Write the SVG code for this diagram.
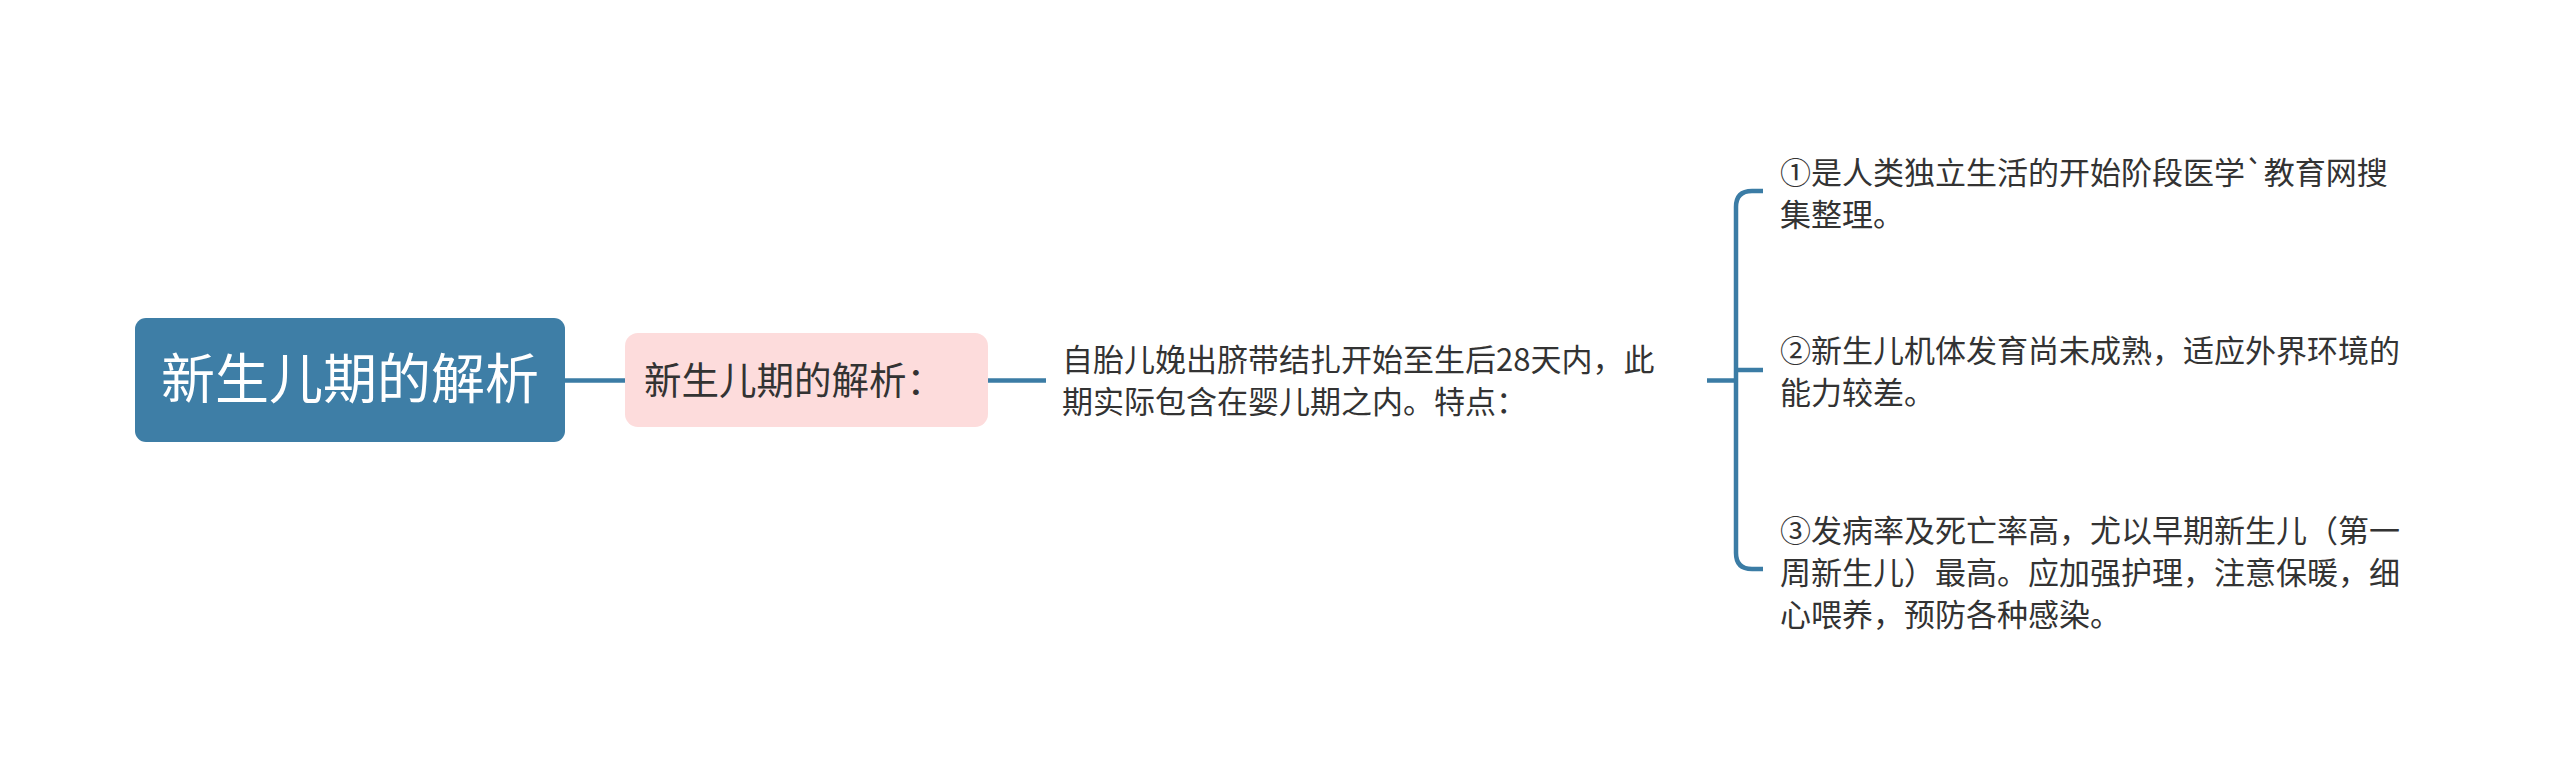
<svg xmlns="http://www.w3.org/2000/svg" width="2560" height="781" viewBox="0 0 2560 781">
<style>
text { font-family: "Noto Sans CJK SC", "Noto Sans", sans-serif; }
.root { fill: #ffffff; font-size: 54px; }
.sub { fill: #333333; font-size: 37.5px; }
.leaf { fill: #333333; font-size: 31px; }
.conn { fill: none; stroke: #3b7ca5; stroke-width: 4.5; stroke-linecap: butt; }
</style>
<rect width="2560" height="781" fill="#ffffff"/>
<g id="connectors">
<line class="conn" x1="565" y1="380.5" x2="625" y2="380.5"/>
<line class="conn" x1="988" y1="380.5" x2="1046" y2="380.5"/>
<line class="conn" x1="1707" y1="380.5" x2="1736" y2="380.5"/>
<path class="conn" d="M1763 191 H1752 Q1736 191 1736 207 V553 Q1736 569 1752 569 H1763"/>
<line class="conn" x1="1736" y1="370" x2="1763" y2="370"/>
</g>
<g id="root">
<rect x="135" y="318" width="430" height="124" rx="11" fill="#3e7ea6"/>
<text class="root" x="350" y="399" text-anchor="middle">新生儿期的解析</text>
</g>
<g id="sub">
<rect x="625" y="333" width="363" height="94" rx="13" fill="#fddcdc"/>
<text class="sub" x="644" y="394">新生儿期的解析：</text>
</g>
<g id="desc">
<text class="leaf" x="1062" y="371">自胎儿娩出脐带结扎开始至生后28天内，此</text>
<text class="leaf" x="1062" y="413">期实际包含在婴儿期之内。特点：</text>
</g>
<g id="item1">
<text class="leaf" x="1780" y="184">①是人类独立生活的开始阶段医学`教育网搜</text>
<text class="leaf" x="1780" y="226">集整理。</text>
</g>
<g id="item2">
<text class="leaf" x="1780" y="362">②新生儿机体发育尚未成熟，适应外界环境的</text>
<text class="leaf" x="1780" y="404">能力较差。</text>
</g>
<g id="item3">
<text class="leaf" x="1780" y="542">③发病率及死亡率高，尤以早期新生儿（第一</text>
<text class="leaf" x="1780" y="584">周新生儿）最高。应加强护理，注意保暖，细</text>
<text class="leaf" x="1780" y="626">心喂养，预防各种感染。</text>
</g>
</svg>
